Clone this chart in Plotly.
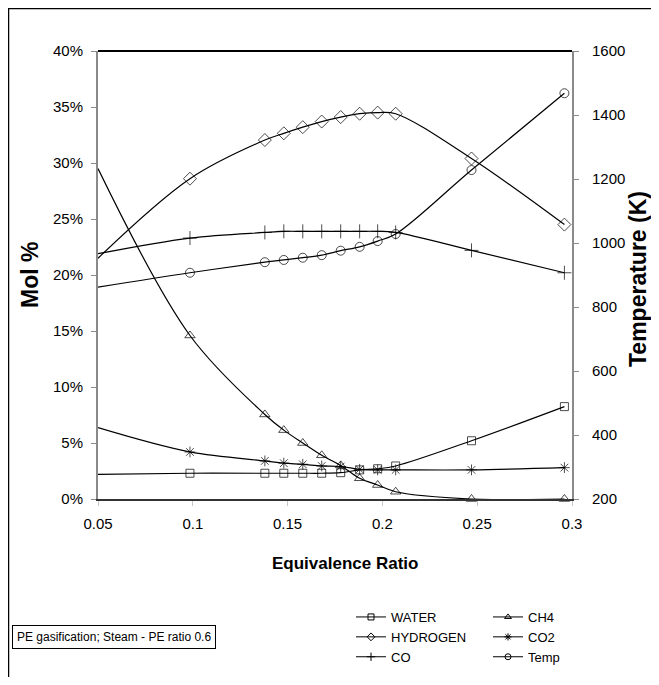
import plotly.graph_objects as go

# ---- data ----
equivalence_ratio = [0.05, 0.0985, 0.138, 0.148, 0.158, 0.168, 0.178, 0.188, 0.1975, 0.207, 0.247, 0.296]
water = [2.2, 2.3, 2.3, 2.3, 2.3, 2.3, 2.35, 2.6, 2.7, 2.95, 5.2, 8.25]
ch4 = [29.5, 14.6, 7.55, 6.15, 5.0, 3.9, 3.0, 1.85, 1.25, 0.65, 0.0, 0.0]
hydrogen = [21.5, 28.6, 32.05, 32.65, 33.2, 33.7, 34.1, 34.4, 34.5, 34.4, 30.4, 24.5]
co2 = [6.37, 4.2, 3.4, 3.2, 3.1, 2.95, 2.9, 2.65, 2.6, 2.6, 2.6, 2.8]
co = [21.9, 23.3, 23.8, 23.9, 23.9, 23.9, 23.9, 23.9, 23.9, 23.8, 22.2, 20.2]
temp = [862, 907, 940, 947, 954, 962, 976, 988, 1006, 1028, 1228, 1468]

series_names = ["WATER", "CH4", "HYDROGEN", "CO2", "CO", "Temp"]
left_ticks = [0, 5, 10, 15, 20, 25, 30, 35, 40]
right_ticks = [200, 400, 600, 800, 1000, 1200, 1400, 1600]
x_ticks = [0.05, 0.1, 0.15, 0.2, 0.25, 0.3]

OFF = 8  # page body margin
W, H = 643, 669
L, T = 90, 43
PW, PH = 474, 448
R, B = W - L - PW, H - T - PH


def px(sx):
    return (sx - OFF - L) / PW


def py(sy):
    return (T + PH - (sy - OFF)) / PH


FONT = "Liberation Sans, Arial, sans-serif"

styles = {
    "WATER": dict(symbol="square-open", size=8),
    "CH4": dict(symbol="triangle-up-open", size=9),
    "HYDROGEN": dict(symbol="diamond-open", size=10),
    "CO2": dict(symbol="asterisk-open", size=9),
    "CO": dict(symbol="cross-thin-open", size=10),
    "Temp": dict(symbol="circle-open", size=9),
}
values = {"WATER": water, "CH4": ch4, "HYDROGEN": hydrogen, "CO2": co2, "CO": co, "Temp": temp}
legend_of = {"WATER": "legend", "HYDROGEN": "legend", "CO": "legend",
             "CH4": "legend2", "CO2": "legend2", "Temp": "legend2"}

fig = go.Figure()
for name in ["WATER", "HYDROGEN", "CO", "CH4", "CO2", "Temp"]:
    st = styles[name]
    sizes = [0] + [st["size"]] * (len(equivalence_ratio) - 1)
    yax = "y2" if name == "Temp" else "y"
    fig.add_trace(go.Scatter(
        x=equivalence_ratio, y=values[name], name=name,
        mode="lines+markers",
        line=dict(color="black", width=1.2, shape="spline", smoothing=1),
        marker=dict(symbol=st["symbol"], size=sizes, color="black",
                    line=dict(color="black", width=1)),
        yaxis=yax, showlegend=False, legendgroup=name,
        cliponaxis=False,
    ))
    # legend entry (small marker on a short line, as in the reference legend)
    fig.add_trace(go.Scatter(
        x=[None], y=[None], name=name, mode="lines+markers",
        line=dict(color="black", width=1),
        marker=dict(symbol=st["symbol"], size=6, color="black",
                    line=dict(color="black", width=1)),
        yaxis=yax, legend=legend_of[name], legendgroup=name,
    ))

tick_font = dict(family=FONT, size=15, color="black")
legend_font = dict(family=FONT, size=13, color="black")

fig.update_layout(
    width=W, height=H,
    margin=dict(l=L, r=R, t=T, b=B, autoexpand=False),
    paper_bgcolor="white", plot_bgcolor="white",
    font=tick_font,
    xaxis=dict(range=[0.05, 0.3], tickvals=x_ticks, ticktext=[str(v) for v in x_ticks],
               showgrid=False, zeroline=False, showline=True, linecolor="#333333", linewidth=2,
               ticks="outside", ticklen=5, tickcolor="#c8c8c8", tickfont=tick_font,
               ticklabelstandoff=5, automargin=False),
    yaxis=dict(range=[0, 40], tickvals=left_ticks, ticktext=[f"{v}%" for v in left_ticks],
               showgrid=False, zeroline=False, showline=True, linecolor="#8a8a8a", linewidth=2,
               ticks="outside", ticklen=5, tickcolor="#8a8a8a", tickfont=tick_font,
               ticklabelstandoff=5, automargin=False),
    yaxis2=dict(range=[200, 1600], tickvals=right_ticks, overlaying="y", side="right",
                showgrid=False, zeroline=False, showline=True, linecolor="#8a8a8a", linewidth=2,
                ticks="outside", ticklen=5, tickcolor="#8a8a8a", tickfont=tick_font,
                ticklabelstandoff=10, automargin=False),
    legend=dict(x=px(351), y=py(602), xanchor="left", yanchor="top",
                font=legend_font, bgcolor="rgba(0,0,0,0)", itemwidth=30, tracegroupgap=0),
    legend2=dict(x=px(488), y=py(602), xanchor="left", yanchor="top",
                 font=legend_font, bgcolor="rgba(0,0,0,0)", itemwidth=30, tracegroupgap=0),
    showlegend=True,
)

# top frame line of the plot area
fig.add_shape(type="line", xref="paper", yref="paper", x0=0, x1=1, y0=1, y1=1,
              line=dict(color="black", width=2))
# outer border (top and left edges visible in the reference)
fig.add_shape(type="line", xref="paper", yref="paper", x0=px(8), x1=px(720), y0=py(8), y1=py(8),
              line=dict(color="black", width=2.5))
fig.add_shape(type="line", xref="paper", yref="paper", x0=px(8), x1=px(8), y0=py(8), y1=py(740),
              line=dict(color="black", width=2.5))

# axis titles
fig.add_annotation(text="<b>Mol %</b>", xref="paper", yref="paper", x=px(30), y=py(275),
                   xanchor="center", yanchor="middle", textangle=-90, showarrow=False,
                   font=dict(family=FONT, size=23, color="black"))
fig.add_annotation(text="<b>Temperature (K)</b>", xref="paper", yref="paper", x=px(638), y=py(279),
                   xanchor="center", yanchor="middle", textangle=-90, showarrow=False,
                   font=dict(family=FONT, size=23, color="black"))
fig.add_annotation(text="<b>Equivalence Ratio</b>", xref="paper", yref="paper", x=px(345), y=py(563),
                   xanchor="center", yanchor="middle", showarrow=False,
                   font=dict(family=FONT, size=17, color="black"))

# note box
fig.add_annotation(text="PE gasification; Steam - PE ratio 0.6", xref="paper", yref="paper",
                   x=px(12), y=py(637), xanchor="left", yanchor="middle", showarrow=False,
                   font=dict(family=FONT, size=12, color="black"),
                   bordercolor="black", borderwidth=1, borderpad=4, bgcolor="white")

fig.write_html("out.html")
